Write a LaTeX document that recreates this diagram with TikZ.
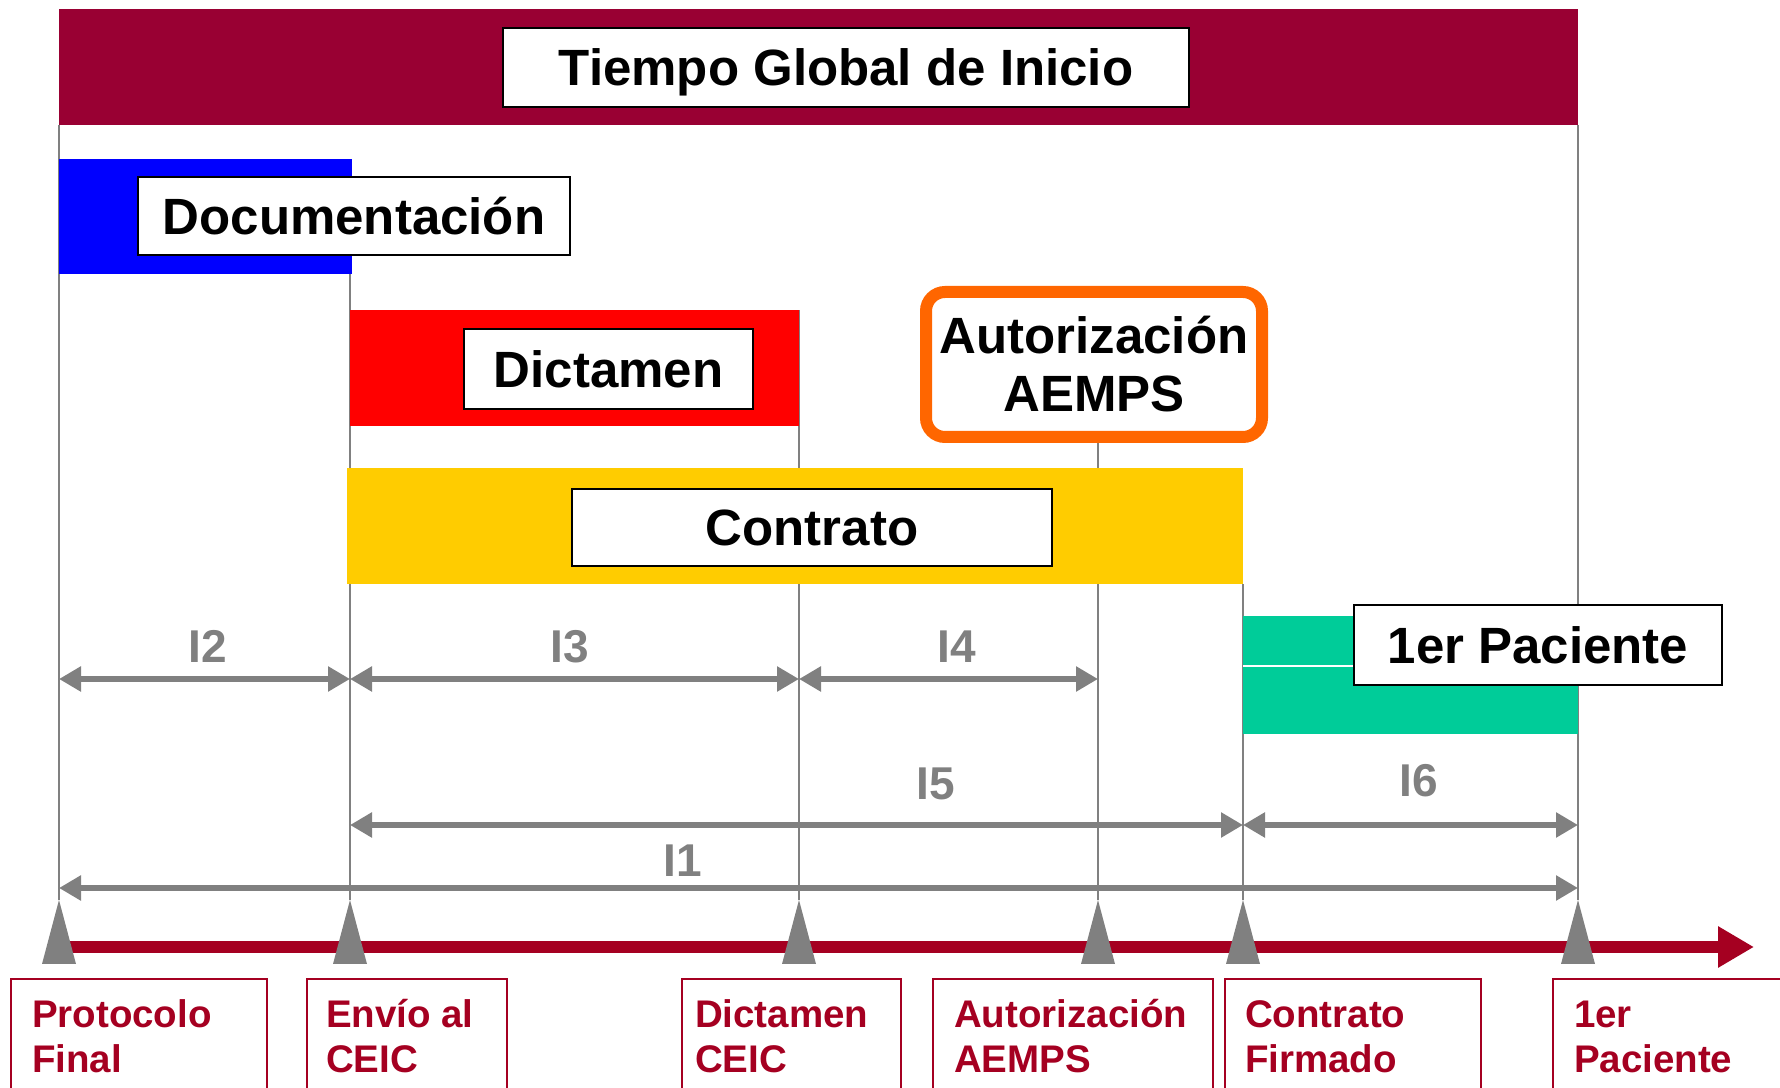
\documentclass[tikz,border=0pt]{standalone}
\usepackage{fontspec}
\setmainfont{Liberation Sans}
\usetikzlibrary{arrows.meta,backgrounds}

\definecolor{globalColor}{RGB}{153,0,51}
\definecolor{docColor}{RGB}{0,0,255}
\definecolor{dictColor}{RGB}{255,0,0}
\definecolor{contColor}{RGB}{255,204,0}
\definecolor{pacColor}{RGB}{0,204,153}
\definecolor{aempsColor}{RGB}{255,102,0}
\definecolor{lineColor}{RGB}{128,128,128}
\definecolor{axisColor}{RGB}{165,0,33}

\tikzset{
  bar/.style={inner sep=0pt, outer sep=0pt, anchor=south west},
  labelbox/.style={draw=black, line width=2pt, fill=white, inner sep=0pt,
    font=\fontsize{51}{58}\selectfont\bfseries},
  oneline/.style={text height=37pt, text depth=0pt},
  guide/.style={draw=lineColor, line width=2pt},
  dimarrow/.style={draw=lineColor, line width=6pt,
    {Triangle[length=22pt,width=24pt]}-{Triangle[length=22pt,width=24pt]}},
  dimlabel/.style={text=lineColor, inner sep=0pt, outer sep=0pt,
    font=\fontsize{46}{46}\selectfont\bfseries},
  milestone/.style={text=axisColor, anchor=base west, align=left, inner sep=0pt,
    outer sep=0pt, font=\fontsize{38.5}{45}\selectfont\bfseries},
  msbox/.style={draw=axisColor, line width=2pt}
}

\begin{document}
\begin{tikzpicture}[x=1pt,y=1pt]
\path[use as bounding box] (0,0) rectangle (1780,1087);

% milestones and rows
\coordinate (m0) at (59,187);
\coordinate (m1) at (350,187);
\coordinate (m2) at (799,187);
\coordinate (m3) at (1098,187);
\coordinate (m4) at (1243,187);
\coordinate (m5) at (1578,187);
\coordinate (rowA) at (0,408);
\coordinate (rowB) at (0,262);
\coordinate (rowC) at (0,199);
\coordinate (axisEnd) at (1754,140);

% phase bars
\node[bar, fill=globalColor, minimum width=1519pt, minimum height=116pt] (globalbar) at (59,962) {};
\node[bar, fill=docColor, minimum width=293pt, minimum height=115pt] (docbar) at (59,813) {};
\node[bar, fill=dictColor, minimum width=449pt, minimum height=116pt] (dictbar) at (350,661) {};
\node[bar, fill=contColor, minimum width=896pt, minimum height=116pt] (contbar) at (347,503) {};
\node[bar, fill=pacColor, minimum width=335pt, minimum height=118pt] (pacbar) at (1243,353) {};
\path[draw=white, line width=1.2pt] (1243,421) -- (1354,421);

% phase labels
\node[labelbox, oneline, minimum width=686pt, minimum height=79pt] (global) at (846,1019.5) {Tiempo Global de Inicio};
\node[labelbox, oneline, minimum width=432pt, minimum height=78pt] (doc) at (354,871) {Documentación};
\node[labelbox, oneline, minimum width=289pt, minimum height=80pt] (dict) at (608.5,718) {Dictamen};
\node[labelbox, oneline, minimum width=480pt, minimum height=77pt] (cont) at (812,559.5) {Contrato};
\node[labelbox, oneline, minimum width=368pt, minimum height=80pt] (pac) at (1538,442) {1er Paciente};
\node[labelbox, draw=aempsColor, line width=12pt, rounded corners=19pt, align=center,
  minimum width=336pt, minimum height=145pt] (aemps) at (1094,722.5) {Autorización\\AEMPS};

% guide lines
\begin{scope}[on background layer]
\draw[guide] (m0) -- (m0 |- globalbar.south);
\draw[guide] (m1) -- (m1 |- docbar.south);
\draw[guide] (m2) -- (m2 |- dictbar.north);
\draw[guide] (m3) -- (m3 |- aemps.south);
\draw[guide] (m4) -- (m4 |- contbar.south);
\draw[guide] (m5) -- (m5 |- globalbar.south);
\end{scope}

% intervals
\draw[dimarrow] (m0 |- rowA) -- (m1 |- rowA);
\draw[dimarrow] (m1 |- rowA) -- (m2 |- rowA);
\draw[dimarrow] (m2 |- rowA) -- (m3 |- rowA);
\draw[dimarrow] (m1 |- rowB) -- (m4 |- rowB);
\draw[dimarrow] (m4 |- rowB) -- (m5 |- rowB);
\draw[dimarrow] (m0 |- rowC) -- (m5 |- rowC);

\node[dimlabel] (l2) at (208,440.5) {I2};
\node[dimlabel] (l3) at (570,440.5) {I3};
\node[dimlabel] (l4) at (957,440.5) {I4};
\node[dimlabel] (l5) at (936,303.5) {I5};
\node[dimlabel] (l6) at (1419,306) {I6};
\node[dimlabel] (l1) at (683,226) {I1};

% time axis
\draw[draw=axisColor, line width=12pt, -{Triangle[length=36pt,width=39pt]}] (m0 |- axisEnd) -- (axisEnd);
\foreach \m in {m0,m1,m2,m3,m4,m5}
  \path[fill=lineColor] (\m) -- ++(17,-64) -- ++(-34,0) -- cycle;

% milestone boxes
\draw[msbox] (11,-10) -- (11,108) -- (267,108) -- (267,-10);
\draw[msbox] (307,-10) -- (307,108) -- (507,108) -- (507,-10);
\draw[msbox] (682,-10) -- (682,108) -- (901,108) -- (901,-10);
\draw[msbox] (933,-10) -- (933,108) -- (1213,108) -- (1213,-10);
\draw[msbox] (1225,-10) -- (1225,108) -- (1481,108) -- (1481,-10);
\draw[msbox] (1553,-10) -- (1553,108) -- (1790,108);

\node[milestone] (protocolo) at (32,15) {Protocolo\\Final};
\node[milestone] (envio) at (326,15) {Envío al\\CEIC};
\node[milestone] (dictceic) at (695,15) {Dictamen\\CEIC};
\node[milestone] (autaemps) at (954,15) {Autorización\\AEMPS};
\node[milestone] (firmado) at (1245,15) {Contrato\\Firmado};
\node[milestone] (paciente) at (1574,15) {1er\\Paciente};
\end{tikzpicture}
\end{document}
